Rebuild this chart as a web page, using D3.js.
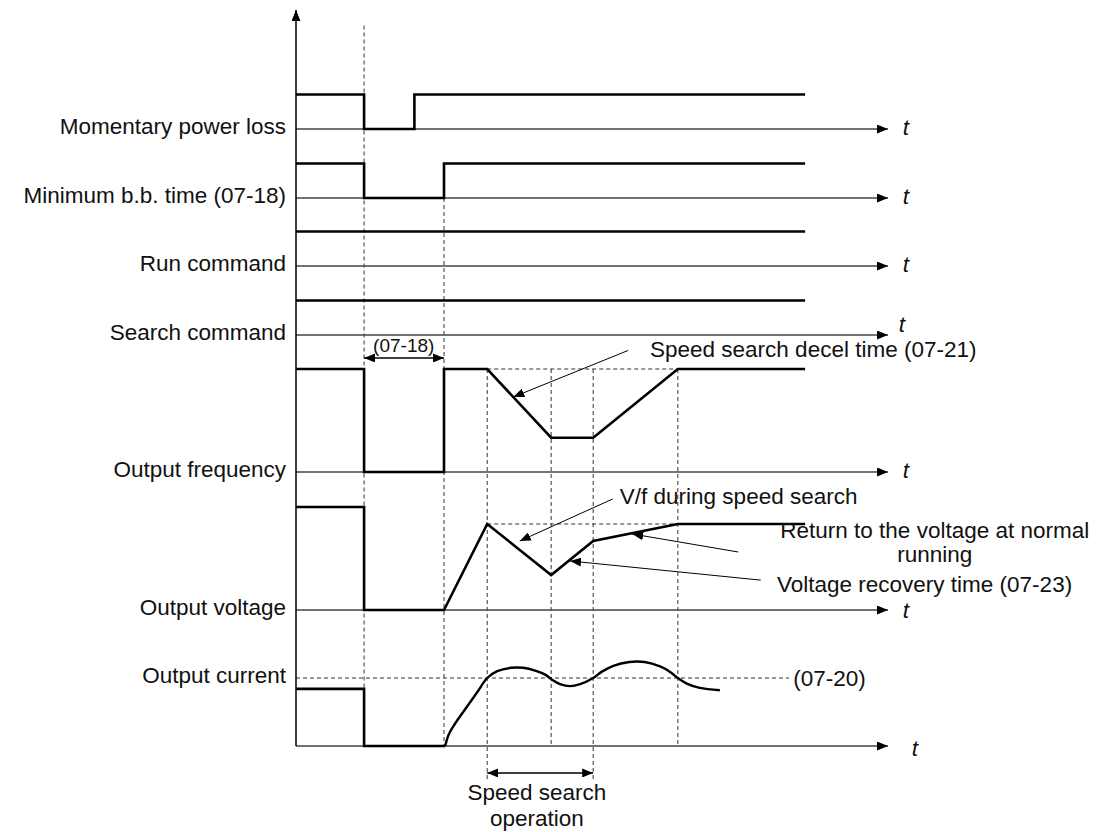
<!DOCTYPE html>
<html>
<head>
<meta charset="utf-8">
<script src="https://cdn.jsdelivr.net/npm/d3@7"></script>
<style>
  body { margin: 0; background: #fff; }
  svg text { font-family: "Liberation Sans", Arial, sans-serif; fill: #111; }
</style>
</head>
<body>
<div id="chart"></div>
<script>
// signal names, top to bottom
var rowNames = ["Momentary power loss", "Minimum b.b. time (07-18)", "Run command",
    "Search command", "Output frequency", "Output voltage", "Output current"];

// event times (0..100 along the time axis)
var tLoss = 11.5, tPowerBack = 20, tBBEnd = 25, tSearch = 32.3, tDecelEnd = 43.1,
    tRecover = 50.2, tFreqBack = 64.5, tEnd = 86;

// [time, level] points of each trace, level 1 = normal
var powerLoss = [[0, 1], [tLoss, 1], [tLoss, 0], [tPowerBack, 0], [tPowerBack, 1], [tEnd, 1]];
var minBB = [[0, 1], [tLoss, 1], [tLoss, 0], [tBBEnd, 0], [tBBEnd, 1], [tEnd, 1]];
var runCmd = [[0, 1], [tEnd, 1]];
var searchCmd = [[0, 1], [tEnd, 1]];
var freq = [[0, 1], [tLoss, 1], [tLoss, 0], [tBBEnd, 0], [tBBEnd, 1], [tSearch, 1],
    [tDecelEnd, 0.333], [tRecover, 0.333], [tFreqBack, 1], [tEnd, 1]];
var volt = [[0, 1], [tLoss, 1], [tLoss, 0], [tBBEnd, 0], [tSearch, 0.835],
    [tDecelEnd, 0.34], [tRecover, 0.67], [tFreqBack, 0.835], [tEnd, 0.835]];
// output current, level 1 = (07-20)
var currStep = [[0, 0.84], [tLoss, 0.84], [tLoss, 0], [25.2, 0]];
var currCurve = [[25.2, 0], [25.8, 0.17], [26.8, 0.32], [28.9, 0.58], [30.6, 0.79], [32.3, 1.0],
    [34.0, 1.10], [36.3, 1.15], [38.4, 1.15], [40.4, 1.11], [42.1, 1.05], [43.1, 0.985],
    [44.6, 0.91], [46.3, 0.88], [48.0, 0.91], [50.2, 1.0], [51.6, 1.09],
    [53.6, 1.18], [56.3, 1.235], [58.9, 1.235], [61.5, 1.17], [63.2, 1.09], [64.5, 1.0],
    [66.2, 0.91], [68.2, 0.855], [71.6, 0.82]];

var traces = [powerLoss, minBB, runCmd, searchCmd, freq, volt];

// layout
var rowAxis = [129, 198, 266, 335, 472, 610, 746];
var rowAmp = [34.5, 34.5, 34.5, 34.5, 103, 103, 68];

var svg = d3.select('#chart').append('svg').attr('width', 1108).attr('height', 832);

var x = d3.scaleLinear().domain([0, 100]).range([296, 888]);
var yRow = rowAxis.map((a, i) => d3.scaleLinear().domain([0, 1]).range([a, a - rowAmp[i]]));
var FR = 4, VO = 5, CU = 6;

var defs = svg.append('defs');
function marker(id, len, half) {
    defs.append('marker')
        .attr('id', id)
        .attr('markerUnits', 'userSpaceOnUse')
        .attr('viewBox', `0 0 ${len} ${half * 2}`)
        .attr('markerWidth', len).attr('markerHeight', half * 2)
        .attr('refX', len).attr('refY', half)
        .attr('orient', 'auto-start-reverse')
        .append('path')
        .attr('d', `M0,0L${len},${half}L0,${half * 2}Z`)
        .attr('fill', '#000');
}
marker('axisHead', 11, 4.5);
marker('smallHead', 11, 4.5);

var line = d3.line().x(d => x(d[0]));

// dashed guides
var guide = svg.append('g').attr('stroke', '#333').attr('stroke-width', 1)
    .attr('stroke-dasharray', '4,3').attr('fill', 'none');
var vGuides = [
    [tLoss, yRow[0](3), rowAxis[CU]],
    [tBBEnd, rowAxis[1], rowAxis[CU]],
    [tSearch, yRow[FR](1), yRow[CU](-0.5)],
    [tDecelEnd, yRow[FR](1), rowAxis[CU]],
    [tRecover, yRow[FR](1), yRow[CU](-0.5)],
    [tFreqBack, yRow[FR](1), rowAxis[CU]]
];
guide.selectAll('line.v').data(vGuides).enter().append('line')
    .attr('x1', d => x(d[0])).attr('x2', d => x(d[0]))
    .attr('y1', d => d[1]).attr('y2', d => d[2]);
var hGuides = [
    [tSearch, tFreqBack, yRow[FR](1)],
    [tSearch, tFreqBack, yRow[VO](0.835)],
    [0, 83.3, yRow[CU](1)]
];
guide.selectAll('line.h').data(hGuides).enter().append('line')
    .attr('x1', d => x(d[0])).attr('x2', d => x(d[1]))
    .attr('y1', d => d[2]).attr('y2', d => d[2]);

// row time axes
svg.append('g').selectAll('line').data(rowAxis).enter().append('line')
    .attr('x1', x(0)).attr('x2', x(100))
    .attr('y1', d => d).attr('y2', d => d)
    .attr('stroke', '#444').attr('stroke-width', 1.4)
    .attr('marker-end', 'url(#axisHead)');

// vertical axis
svg.append('line')
    .attr('x1', x(0)).attr('x2', x(0))
    .attr('y1', rowAxis[CU]).attr('y2', 10)
    .attr('stroke', '#000').attr('stroke-width', 1.5)
    .attr('marker-end', 'url(#axisHead)');

// traces
traces.forEach(function (tr, i) {
    svg.append('path')
        .attr('d', line.y(d => yRow[i](d[1])).curve(d3.curveLinear)(tr))
        .attr('fill', 'none').attr('stroke', '#000').attr('stroke-width', 2.6);
});
svg.append('path')
    .attr('d', line.y(d => yRow[CU](d[1])).curve(d3.curveLinear)(currStep))
    .attr('fill', 'none').attr('stroke', '#000').attr('stroke-width', 2.6);
svg.append('path')
    .attr('d', line.y(d => yRow[CU](d[1])).curve(d3.curveCatmullRom.alpha(0.5))(currCurve))
    .attr('fill', 'none').attr('stroke', '#000').attr('stroke-width', 2.4);

// row labels
svg.append('g').selectAll('text').data(rowNames).enter().append('text')
    .attr('x', 286)
    .attr('y', (d, i) => i == CU ? yRow[CU](1) + 5 : rowAxis[i] + 5)
    .attr('text-anchor', 'end')
    .style('font-size', '22.5px')
    .text(d => d);

// t labels
svg.append('g').selectAll('text').data(rowAxis).enter().append('text')
    .attr('x', (d, i) => i == 3 ? 902 : (i == CU ? 915 : 906))
    .attr('y', (d, i) => i == 3 ? d - 3 : (i == CU ? d + 10 : (i == VO ? d + 8 : d + 6)))
    .attr('text-anchor', 'middle')
    .style('font-size', '22.5px').style('font-style', 'italic')
    .text('t');

// annotations: [t1, row, level1, t2, level2]
var leaders = [
    [56.1, FR, 1.18, 36.7, 0.728],
    [53.5, VO, 1.078, 37.8, 0.67],
    [74.7, VO, 0.563, 56.8, 0.738],
    [78.5, VO, 0.29, 46.3, 0.476]
];
svg.append('g').selectAll('line').data(leaders).enter().append('line')
    .attr('x1', d => x(d[0])).attr('y1', d => yRow[d[1]](d[2]))
    .attr('x2', d => x(d[3])).attr('y2', d => yRow[d[1]](d[4]))
    .attr('stroke', '#000').attr('stroke-width', 1)
    .attr('marker-end', 'url(#smallHead)');

// double arrows
var spans = [
    [tLoss, tBBEnd, yRow[FR](1.107)],
    [tSearch, tRecover, yRow[CU](-0.397)]
];
svg.append('g').selectAll('line').data(spans).enter().append('line')
    .attr('x1', d => x(d[0])).attr('x2', d => x(d[1]))
    .attr('y1', d => d[2]).attr('y2', d => d[2])
    .attr('stroke', '#000').attr('stroke-width', 1.3)
    .attr('marker-start', 'url(#smallHead)').attr('marker-end', 'url(#smallHead)');

// annotation texts: [text, t, row, level, anchor, size]
var notes = [
    ["(07-18)", 18.2, FR, 1.165, 'middle', 19],
    ["Speed search decel time (07-21)", 59.8, FR, 1.117, 'start', 22.5],
    ["V/f during speed search", 54.7, VO, 1.03, 'start', 22.5],
    ["Return to the voltage at normal", 107.9, VO, 0.70, 'middle', 22.5],
    ["running", 107.9, VO, 0.466, 'middle', 22.5],
    ["Voltage recovery time (07-23)", 81.25, VO, 0.17, 'start', 22.5],
    ["(07-20)", 84, CU, 0.88, 'start', 22.5],
    ["Speed search", 40.7, CU, -0.794, 'middle', 22.5],
    ["operation", 40.7, CU, -1.176, 'middle', 22.5]
];
svg.append('g').selectAll('text').data(notes).enter().append('text')
    .attr('x', d => x(d[1]))
    .attr('y', d => yRow[d[2]](d[3]))
    .attr('text-anchor', d => d[4])
    .style('font-size', d => d[5] + 'px')
    .text(d => d[0]);
</script>
</body>
</html>
